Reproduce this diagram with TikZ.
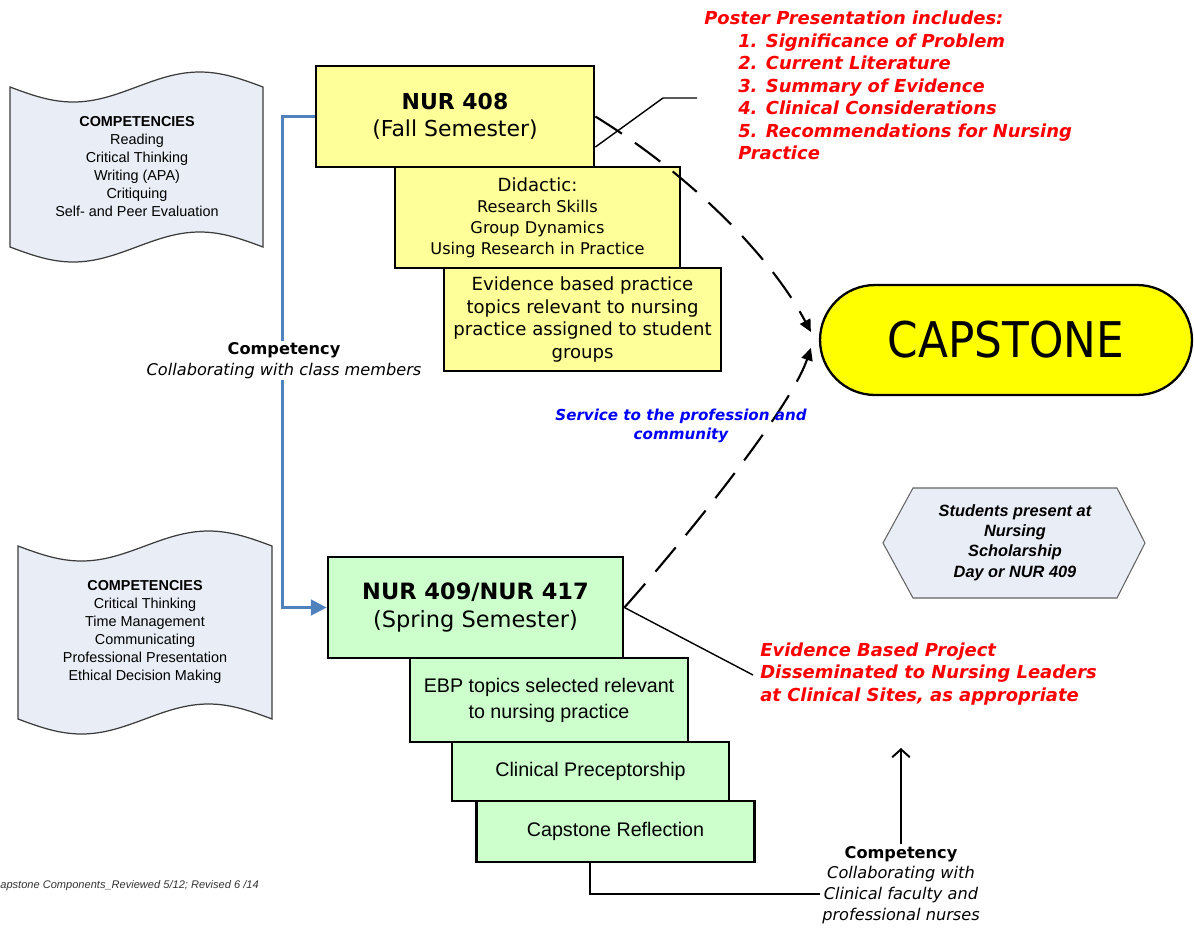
\documentclass[tikz,border=0pt]{standalone}
\usepackage{fontspec}
\usepackage{graphicx}
\newfontfamily\dvs{DejaVu Sans}
\newfontfamily\lib{Liberation Sans}
\usetikzlibrary{arrows.meta,calc}
\definecolor{boxyellow}{RGB}{255,255,153}
\definecolor{boxgreen}{RGB}{204,255,204}
\definecolor{capyellow}{RGB}{255,255,0}
\definecolor{docfill}{RGB}{233,237,246}
\definecolor{docline}{RGB}{60,60,60}
\definecolor{linkblue}{RGB}{79,129,189}
\definecolor{postred}{RGB}{255,0,0}
\definecolor{servblue}{RGB}{0,0,255}
\begin{document}
\begin{tikzpicture}[x=0.02cm,y=-0.02cm,
  ybox/.style={draw=black,line width=1.6pt,fill=boxyellow,inner sep=0pt,align=center},
  gbox/.style={draw=black,line width=1.6pt,fill=boxgreen,inner sep=0pt,align=center},
  doctext/.style={align=center,inner sep=0pt,font=\lib\fontsize{8.2}{10.3}\selectfont},
  docshape/.style={draw=docline,line width=0.7pt,fill=docfill},
  hexshape/.style={draw=docline!80,line width=0.6pt,fill=docfill},
  dashlink/.style={draw=black,line width=1.2pt,dash pattern=on 18pt off 9pt,-{Triangle[length=7pt,width=6.5pt]}},
  thinline/.style={draw=black,line width=0.8pt},
  redtext/.style={inner sep=0pt,align=left,text=postred,font=\dvs\bfseries\itshape\fontsize{10.2}{12.8}\selectfont},
  complabel/.style={align=center,inner sep=1pt,font=\dvs\fontsize{9.2}{11.8}\selectfont}
]
\useasboundingbox (0,0) rectangle (1194,927);

% competency documents
\draw[docshape] (10,87) sin (73.25,102) cos (136.5,87) sin (199.75,72) cos (263,87)
  -- (263,247) sin (199.75,232) cos (136.5,247) sin (73.25,262) cos (10,247) -- cycle;
\node[doctext] (docA) at (137,166.5) {\textbf{COMPETENCIES}\\Reading\\Critical Thinking\\Writing (APA)\\Critiquing\\Self- and Peer Evaluation};

\draw[docshape] (18,546) sin (81.5,561) cos (145,546) sin (208.5,531) cos (272,546)
  -- (272,719) sin (208.5,704) cos (145,719) sin (81.5,734) cos (18,719) -- cycle;
\node[doctext] (docB) at (145,632) {\textbf{COMPETENCIES}\\Critical Thinking\\Time Management\\Communicating\\Professional Presentation\\Ethical Decision Making};

% fall semester boxes
\node[ybox,minimum width=5.56cm,minimum height=2.02cm,font=\dvs\fontsize{12.5}{15.3}\selectfont] (n408) at (455,116.5) {\textbf{NUR 408}\\(Fall Semester)};
\node[ybox,minimum width=5.70cm,minimum height=2.02cm,font=\dvs\fontsize{9.2}{11.9}\selectfont] (did) at (537.5,217.5) {{\fontsize{10.3}{11.9}\selectfont Didactic:}\\Research Skills\\Group Dynamics\\Using Research in Practice};
\node[ybox,minimum width=5.54cm,minimum height=2.06cm,font=\dvs\fontsize{10.3}{12.75}\selectfont] (evb) at (582.5,319.5) {Evidence based practice\\topics relevant to nursing\\practice assigned to student\\groups};

% spring semester boxes
\node[gbox,minimum width=5.90cm,minimum height=2.02cm,font=\dvs\fontsize{12.8}{15.8}\selectfont] (n409) at (475.5,607.5) {\textbf{NUR 409/NUR 417}\\(Spring Semester)};
\node[gbox,minimum width=5.56cm,minimum height=1.68cm,font=\lib\fontsize{11.2}{14.7}\selectfont] (ebp) at (549,700) {EBP topics selected relevant\\to nursing practice};
\node[gbox,minimum width=5.54cm,minimum height=1.18cm,font=\lib\fontsize{11.2}{14}\selectfont] (clin) at (590.5,771.5) {Clinical Preceptorship};
\node[gbox,minimum width=5.56cm,minimum height=1.22cm,font=\lib\fontsize{11.2}{14}\selectfont] (cr) at (615.5,831.5) {Capstone Reflection};

% capstone
\node[draw=black,line width=1.3pt,fill=capyellow,rounded corners=1.1cm,minimum width=7.44cm,minimum height=2.2cm,inner sep=0pt,font=\dvs\fontsize{28}{30}\selectfont] (cap) at (1006,340) {\scalebox{0.89}[1]{CAPSTONE}};

% hexagon
\draw[hexshape] (883,543) -- (913,488) -- (1117,488) -- (1145,543) -- (1117,598) -- (913,598) -- cycle;
\node[align=center,inner sep=0pt,font=\lib\bfseries\itshape\fontsize{9.3}{11.6}\selectfont] (hex) at (1015,542.5) {Students present at\\Nursing\\Scholarship\\Day or NUR 409};

% blue competency connector
\draw[linkblue,line width=1.4pt,-{Triangle[length=9pt,width=9pt]}] (n408.west) -- ++(-32,0) |- (n409.west);
\node[complabel,fill=white] (compA) at (284,360.5) {\textbf{Competency}\\\textit{Collaborating with class members}};

% dashed links to capstone
\draw[dashlink] (n408.east) .. controls (690,175) and (770,255) .. ($(cap.west)+(-8,-8)$);
\draw[dashlink] (n409.east) .. controls (680,545) and (790,410) .. ($(cap.west)+(-8,8)$);

% callouts
\coordinate (callA) at (697,98);
\draw[thinline] ($(n408.east)+(0,30.5)$) -- (663,98) -- (callA);
\coordinate (callB) at (753,675);
\draw[thinline] (n409.east) -- (callB);

\node[redtext,anchor=north west] (poster) at (704,11) {Poster Presentation includes:\\\hspace*{19.3pt}1. Significance of Problem\\\hspace*{19.3pt}2. Current Literature\\\hspace*{19.3pt}3. Summary of Evidence\\\hspace*{19.3pt}4. Clinical Considerations\\\hspace*{19.3pt}5. Recommendations for Nursing\\\hspace*{19.3pt}Practice};

\node[redtext,anchor=west,font=\dvs\bfseries\itshape\fontsize{10.2}{13}\selectfont] (dissem) at (760,674) {Evidence Based Project\\Disseminated to Nursing Leaders\\at Clinical Sites, as appropriate};

\node[align=center,inner sep=0pt,text=servblue,font=\dvs\bfseries\itshape\fontsize{8.6}{10.8}\selectfont] (serv) at (681,425.5) {Service to the profession and\\community};

% clinical competency
\node[complabel] (compB) at (901,885) {\textbf{Competency}\\\textit{Collaborating with}\\\textit{Clinical faculty and}\\\textit{professional nurses}};
\coordinate (uptip) at (901,748);
\draw[line width=1.1pt,-{Straight Barb[length=4.5pt,width=10pt]}] (compB.north) -- (uptip);
\draw[line width=1.1pt] ($(cr.south)+(-25.5,0)$) |- ($(compB.west)+(0,9)$);

% footer
\node[anchor=west,inner sep=0pt,font=\lib\itshape\fontsize{6.3}{7.5}\selectfont,text=black!80] (footer) at (0,886) {apstone Components\_Reviewed 5/12; Revised 6 /14};
\end{tikzpicture}
\end{document}
